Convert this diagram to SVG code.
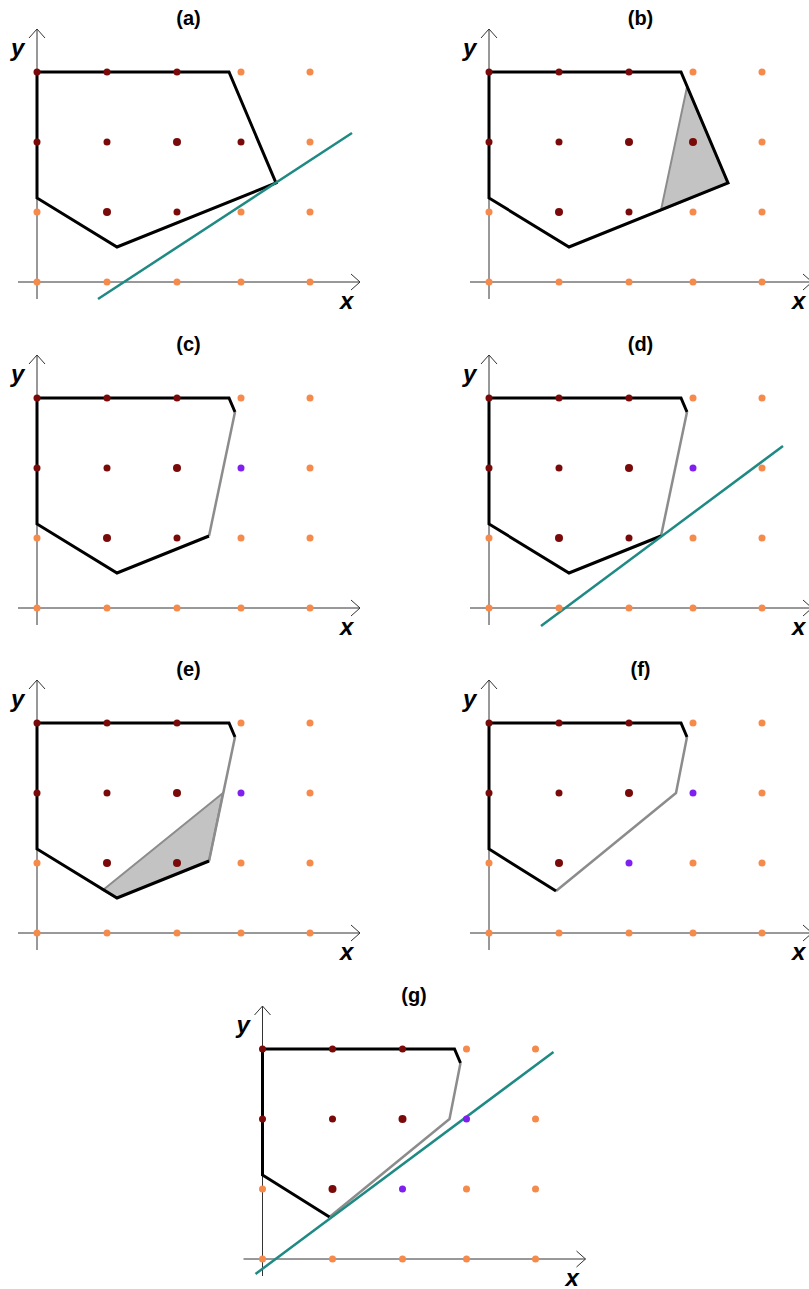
<svg xmlns="http://www.w3.org/2000/svg" width="809" height="1289" viewBox="0 0 809 1289">
<style>
.ax{stroke:#333;stroke-width:1;fill:none}
.poly{stroke:#000;stroke-width:3;fill:none;stroke-linejoin:miter}
.cut{stroke:#8c8c8c;stroke-width:2.5;fill:none;stroke-linejoin:round}
.shade{fill:#c3c3c3;stroke:#8c8c8c;stroke-width:2}
.tl{stroke:#1f8a84;stroke-width:2.5}
.d{fill:#7a0a0a}
.o{fill:#f58a4b}
.p{fill:#7f1ff0}
.ttl{font-family:"Liberation Sans",Arial,sans-serif;font-weight:bold;font-size:20px;text-anchor:middle}
.lbl{font-family:"Liberation Sans",Arial,sans-serif;font-weight:bold;font-style:italic;font-size:24px}
</style>
<defs>
<marker id="arr" markerUnits="userSpaceOnUse" markerWidth="12" markerHeight="20" viewBox="-11 -10 12 20" refX="0" refY="0" orient="auto"><path d="M-9,-8 L0,0 L-9,8" fill="none" stroke="#333" stroke-width="1"/></marker>
</defs>

<!-- (a) -->
<g id="panel-a">
<text class="ttl" x="188.5" y="25">(a)</text>
<text class="lbl" x="11" y="56">y</text>
<text class="lbl" x="340" y="309">x</text>
<line class="ax" x1="37" y1="299" x2="37" y2="29" marker-end="url(#arr)"/>
<line class="ax" x1="18" y1="282" x2="360" y2="282" marker-end="url(#arr)"/>
<polygon class="poly" points="37,72 229,72 276,183 117,247 37,198"/>
<g id="conn-a"><line class="tl" x1="98" y1="299" x2="352" y2="133"/></g>
<g id="dots-a">
<circle class="d" cx="37" cy="72" r="3.5"/><circle class="d" cx="107" cy="72" r="3.5"/><circle class="d" cx="177" cy="72" r="3.5"/><circle class="o" cx="241" cy="72" r="3.5"/><circle class="o" cx="310" cy="72" r="3.5"/>
<circle class="d" cx="37" cy="142" r="3.5"/><circle class="d" cx="107" cy="142" r="3.5"/><circle class="d" cx="177" cy="142" r="4"/><circle class="d" cx="241" cy="142" r="3.5"/><circle class="o" cx="310" cy="142" r="3.5"/>
<circle class="o" cx="37" cy="212" r="3.5"/><circle class="d" cx="107" cy="212" r="4"/><circle class="d" cx="177" cy="212" r="3.5"/><circle class="o" cx="241" cy="212" r="3.5"/><circle class="o" cx="310" cy="212" r="3.5"/>
<circle class="o" cx="37" cy="282" r="3.5"/><circle class="o" cx="107" cy="282" r="3.5"/><circle class="o" cx="177" cy="282" r="3.5"/><circle class="o" cx="241" cy="282" r="3.5"/><circle class="o" cx="310" cy="282" r="3.5"/>
</g>
</g>

<!-- (b) -->
<g id="panel-b" transform="translate(452,0)">
<text class="ttl" x="188.5" y="25">(b)</text>
<text class="lbl" x="11" y="56">y</text>
<text class="lbl" x="340" y="309">x</text>
<line class="ax" x1="37" y1="299" x2="37" y2="29" marker-end="url(#arr)"/>
<line class="ax" x1="18" y1="282" x2="360" y2="282" marker-end="url(#arr)"/>
<polygon class="shade" points="235,87 276,183 209,210"/>
<polygon class="poly" points="37,72 229,72 276,183 117,247 37,198"/>
<g id="dots-b">
<circle class="d" cx="37" cy="72" r="3.5"/><circle class="d" cx="107" cy="72" r="3.5"/><circle class="d" cx="177" cy="72" r="3.5"/><circle class="o" cx="241" cy="72" r="3.5"/><circle class="o" cx="310" cy="72" r="3.5"/>
<circle class="d" cx="37" cy="142" r="3.5"/><circle class="d" cx="107" cy="142" r="3.5"/><circle class="d" cx="177" cy="142" r="4"/><circle class="d" cx="241" cy="142" r="4"/><circle class="o" cx="310" cy="142" r="3.5"/>
<circle class="o" cx="37" cy="212" r="3.5"/><circle class="d" cx="107" cy="212" r="4"/><circle class="d" cx="177" cy="212" r="3.5"/><circle class="o" cx="241" cy="212" r="3.5"/><circle class="o" cx="310" cy="212" r="3.5"/>
<circle class="o" cx="37" cy="282" r="3.5"/><circle class="o" cx="107" cy="282" r="3.5"/><circle class="o" cx="177" cy="282" r="3.5"/><circle class="o" cx="241" cy="282" r="3.5"/><circle class="o" cx="310" cy="282" r="3.5"/>
</g>
</g>

<!-- (c) -->
<g id="panel-c" transform="translate(0,326)">
<text class="ttl" x="188.5" y="25">(c)</text>
<text class="lbl" x="11" y="56">y</text>
<text class="lbl" x="340" y="309">x</text>
<line class="ax" x1="37" y1="299" x2="37" y2="29" marker-end="url(#arr)"/>
<line class="ax" x1="18" y1="282" x2="360" y2="282" marker-end="url(#arr)"/>
<polyline class="cut" points="235,86 209,210"/>
<polyline class="poly" points="235,86 229,72 37,72 37,198 117,247 209,210"/>
<g id="dots-c">
<circle class="d" cx="37" cy="72" r="3.5"/><circle class="d" cx="107" cy="72" r="3.5"/><circle class="d" cx="177" cy="72" r="3.5"/><circle class="o" cx="241" cy="72" r="3.5"/><circle class="o" cx="310" cy="72" r="3.5"/>
<circle class="d" cx="37" cy="142" r="3.5"/><circle class="d" cx="107" cy="142" r="3.5"/><circle class="d" cx="177" cy="142" r="4"/><circle class="p" cx="241" cy="142" r="3.5"/><circle class="o" cx="310" cy="142" r="3.5"/>
<circle class="o" cx="37" cy="212" r="3.5"/><circle class="d" cx="107" cy="212" r="4"/><circle class="d" cx="177" cy="212" r="3.5"/><circle class="o" cx="241" cy="212" r="3.5"/><circle class="o" cx="310" cy="212" r="3.5"/>
<circle class="o" cx="37" cy="282" r="3.5"/><circle class="o" cx="107" cy="282" r="3.5"/><circle class="o" cx="177" cy="282" r="3.5"/><circle class="o" cx="241" cy="282" r="3.5"/><circle class="o" cx="310" cy="282" r="3.5"/>
</g>
</g>

<!-- (d) -->
<g id="panel-d" transform="translate(452,326)">
<text class="ttl" x="188.5" y="25">(d)</text>
<text class="lbl" x="11" y="56">y</text>
<text class="lbl" x="340" y="309">x</text>
<line class="ax" x1="37" y1="299" x2="37" y2="29" marker-end="url(#arr)"/>
<line class="ax" x1="18" y1="282" x2="360" y2="282" marker-end="url(#arr)"/>
<polyline class="cut" points="235,86 209,210"/>
<polyline class="poly" points="235,86 229,72 37,72 37,198 117,247 209,210"/>
<g id="conn-d"><line class="tl" x1="89" y1="300" x2="331" y2="120"/></g>
<g id="dots-d">
<circle class="d" cx="37" cy="72" r="3.5"/><circle class="d" cx="107" cy="72" r="3.5"/><circle class="d" cx="177" cy="72" r="3.5"/><circle class="o" cx="241" cy="72" r="3.5"/><circle class="o" cx="310" cy="72" r="3.5"/>
<circle class="d" cx="37" cy="142" r="3.5"/><circle class="d" cx="107" cy="142" r="3.5"/><circle class="d" cx="177" cy="142" r="4"/><circle class="p" cx="241" cy="142" r="3.5"/><circle class="o" cx="310" cy="142" r="3.5"/>
<circle class="o" cx="37" cy="212" r="3.5"/><circle class="d" cx="107" cy="212" r="4"/><circle class="d" cx="177" cy="212" r="3.5"/><circle class="o" cx="241" cy="212" r="3.5"/><circle class="o" cx="310" cy="212" r="3.5"/>
<circle class="o" cx="37" cy="282" r="3.5"/><circle class="o" cx="107" cy="282" r="3.5"/><circle class="o" cx="177" cy="282" r="3.5"/><circle class="o" cx="241" cy="282" r="3.5"/><circle class="o" cx="310" cy="282" r="3.5"/>
</g>
</g>

<!-- (e) -->
<g id="panel-e" transform="translate(0,651)">
<text class="ttl" x="188.5" y="25">(e)</text>
<text class="lbl" x="11" y="56">y</text>
<text class="lbl" x="340" y="309">x</text>
<line class="ax" x1="37" y1="299" x2="37" y2="29" marker-end="url(#arr)"/>
<line class="ax" x1="18" y1="282" x2="360" y2="282" marker-end="url(#arr)"/>
<polygon class="shade" points="103,239 223,142 209,210 117,247"/>
<polyline class="cut" points="235,86 209,210"/>
<polyline class="poly" points="235,86 229,72 37,72 37,198 117,247 209,210"/>
<g id="dots-e">
<circle class="d" cx="37" cy="72" r="3.5"/><circle class="d" cx="107" cy="72" r="3.5"/><circle class="d" cx="177" cy="72" r="3.5"/><circle class="o" cx="241" cy="72" r="3.5"/><circle class="o" cx="310" cy="72" r="3.5"/>
<circle class="d" cx="37" cy="142" r="3.5"/><circle class="d" cx="107" cy="142" r="3.5"/><circle class="d" cx="177" cy="142" r="4"/><circle class="p" cx="241" cy="142" r="3.5"/><circle class="o" cx="310" cy="142" r="3.5"/>
<circle class="o" cx="37" cy="212" r="3.5"/><circle class="d" cx="107" cy="212" r="4"/><circle class="d" cx="177" cy="212" r="4"/><circle class="o" cx="241" cy="212" r="3.5"/><circle class="o" cx="310" cy="212" r="3.5"/>
<circle class="o" cx="37" cy="282" r="3.5"/><circle class="o" cx="107" cy="282" r="3.5"/><circle class="o" cx="177" cy="282" r="3.5"/><circle class="o" cx="241" cy="282" r="3.5"/><circle class="o" cx="310" cy="282" r="3.5"/>
</g>
</g>

<!-- (f) -->
<g id="panel-f" transform="translate(452,651)">
<text class="ttl" x="188.5" y="25">(f)</text>
<text class="lbl" x="11" y="56">y</text>
<text class="lbl" x="340" y="309">x</text>
<line class="ax" x1="37" y1="299" x2="37" y2="29" marker-end="url(#arr)"/>
<line class="ax" x1="18" y1="282" x2="360" y2="282" marker-end="url(#arr)"/>
<polyline class="cut" points="235,86 224,142 104,240"/>
<polyline class="poly" points="235,86 229,72 37,72 37,198 104,240"/>
<g id="dots-f">
<circle class="d" cx="37" cy="72" r="3.5"/><circle class="d" cx="107" cy="72" r="3.5"/><circle class="d" cx="177" cy="72" r="3.5"/><circle class="o" cx="241" cy="72" r="3.5"/><circle class="o" cx="310" cy="72" r="3.5"/>
<circle class="d" cx="37" cy="142" r="3.5"/><circle class="d" cx="107" cy="142" r="3.5"/><circle class="d" cx="177" cy="142" r="4"/><circle class="p" cx="241" cy="142" r="3.5"/><circle class="o" cx="310" cy="142" r="3.5"/>
<circle class="o" cx="37" cy="212" r="3.5"/><circle class="d" cx="107" cy="212" r="4"/><circle class="p" cx="177" cy="212" r="3.5"/><circle class="o" cx="241" cy="212" r="3.5"/><circle class="o" cx="310" cy="212" r="3.5"/>
<circle class="o" cx="37" cy="282" r="3.5"/><circle class="o" cx="107" cy="282" r="3.5"/><circle class="o" cx="177" cy="282" r="3.5"/><circle class="o" cx="241" cy="282" r="3.5"/><circle class="o" cx="310" cy="282" r="3.5"/>
</g>
</g>

<!-- (g) -->
<g id="panel-g" transform="translate(225.5,977)">
<text class="ttl" x="188.5" y="25">(g)</text>
<text class="lbl" x="11" y="56">y</text>
<text class="lbl" x="340" y="309">x</text>
<line class="ax" x1="37" y1="299" x2="37" y2="29" marker-end="url(#arr)"/>
<line class="ax" x1="18" y1="282" x2="360" y2="282" marker-end="url(#arr)"/>
<polyline class="cut" points="235,86 224,142 104,240"/>
<polyline class="poly" points="235,86 229,72 37,72 37,198 104,240"/>
<g id="conn-g"><line class="tl" x1="30" y1="297" x2="328" y2="75"/></g>
<g id="dots-g">
<circle class="d" cx="37" cy="72" r="3.5"/><circle class="d" cx="107" cy="72" r="3.5"/><circle class="d" cx="177" cy="72" r="3.5"/><circle class="o" cx="241" cy="72" r="3.5"/><circle class="o" cx="310" cy="72" r="3.5"/>
<circle class="d" cx="37" cy="142" r="3.5"/><circle class="d" cx="107" cy="142" r="3.5"/><circle class="d" cx="177" cy="142" r="4"/><circle class="p" cx="241" cy="142" r="3.5"/><circle class="o" cx="310" cy="142" r="3.5"/>
<circle class="o" cx="37" cy="212" r="3.5"/><circle class="d" cx="107" cy="212" r="4"/><circle class="p" cx="177" cy="212" r="3.5"/><circle class="o" cx="241" cy="212" r="3.5"/><circle class="o" cx="310" cy="212" r="3.5"/>
<circle class="o" cx="37" cy="282" r="3.5"/><circle class="o" cx="107" cy="282" r="3.5"/><circle class="o" cx="177" cy="282" r="3.5"/><circle class="o" cx="241" cy="282" r="3.5"/><circle class="o" cx="310" cy="282" r="3.5"/>
</g>
</g>
</svg>
